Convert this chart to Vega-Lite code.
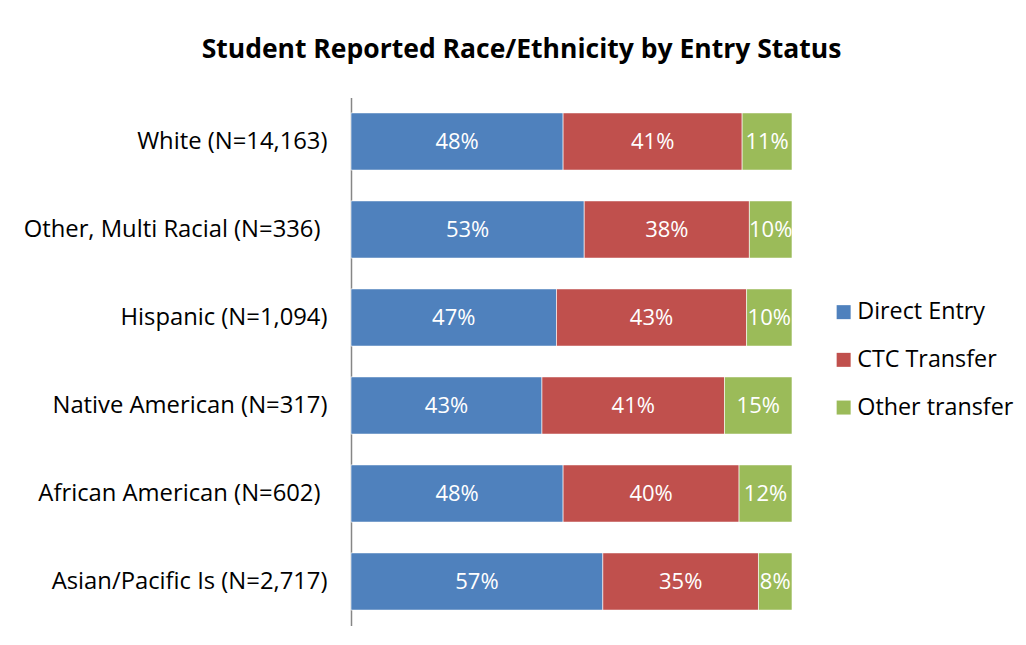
{
  "$schema": "https://vega.github.io/schema/vega-lite/v6.json",
  "autosize": "none",
  "width": 441,
  "height": 528,
  "padding": {"left": 351, "top": 97.5, "right": 234, "bottom": 20},
  "background": "white",
  "title": {
    "text": "Student Reported Race/Ethnicity by Entry Status",
    "font": "Open Sans",
    "fontSize": 26.5,
    "fontWeight": "bold",
    "color": "#000000",
    "anchor": "middle",
    "frame": "group",
    "dx": -50,
    "offset": 34
  },
  "data": {
    "values": [
      {"group": "White (N=14,163)", "status": "Direct Entry", "k": 1, "share": 0.481},
      {"group": "White (N=14,163)", "status": "CTC Transfer", "k": 2, "share": 0.406},
      {"group": "White (N=14,163)", "status": "Other transfer", "k": 3, "share": 0.113},
      {"group": "Other, Multi Racial (N=336)", "status": "Direct Entry", "k": 1, "share": 0.531},
      {"group": "Other, Multi Racial (N=336)", "status": "CTC Transfer", "k": 2, "share": 0.376},
      {"group": "Other, Multi Racial (N=336)", "status": "Other transfer", "k": 3, "share": 0.097},
      {"group": "Hispanic (N=1,094)", "status": "Direct Entry", "k": 1, "share": 0.466},
      {"group": "Hispanic (N=1,094)", "status": "CTC Transfer", "k": 2, "share": 0.431},
      {"group": "Hispanic (N=1,094)", "status": "Other transfer", "k": 3, "share": 0.103},
      {"group": "Native American (N=317)", "status": "Direct Entry", "k": 1, "share": 0.433},
      {"group": "Native American (N=317)", "status": "CTC Transfer", "k": 2, "share": 0.414},
      {"group": "Native American (N=317)", "status": "Other transfer", "k": 3, "share": 0.153},
      {"group": "African American (N=602)", "status": "Direct Entry", "k": 1, "share": 0.481},
      {"group": "African American (N=602)", "status": "CTC Transfer", "k": 2, "share": 0.399},
      {"group": "African American (N=602)", "status": "Other transfer", "k": 3, "share": 0.12},
      {"group": "Asian/Pacific Is (N=2,717)", "status": "Direct Entry", "k": 1, "share": 0.571},
      {"group": "Asian/Pacific Is (N=2,717)", "status": "CTC Transfer", "k": 2, "share": 0.353},
      {"group": "Asian/Pacific Is (N=2,717)", "status": "Other transfer", "k": 3, "share": 0.076}
    ]
  },
  "encoding": {
    "y": {
      "field": "group",
      "type": "nominal",
      "sort": null,
      "title": null,
      "scale": {"paddingInner": 0.35, "paddingOuter": 0.175},
      "axis": {
        "ticks": false,
        "labelPadding": {"condition": {"test": "datum.value == 'Other, Multi Racial (N=336)' || datum.value == 'African American (N=602)'", "value": 31}, "value": 24},
        "labelFont": "Open Sans",
        "labelFontSize": 23.8,
        "labelColor": "#000000",
        "labelLimit": 400,
        "domainColor": "#868686",
        "domainWidth": 1.5,
        "grid": false
      }
    }
  },
  "layer": [
    {
      "mark": {"type": "bar", "stroke": "#ffffff", "strokeWidth": 0.6},
      "encoding": {
        "x": {"field": "share", "type": "quantitative", "stack": "normalize", "axis": null, "scale": {"domain": [0, 1], "nice": false}},
        "color": {
          "field": "status",
          "type": "nominal",
          "scale": {"domain": ["Direct Entry", "CTC Transfer", "Other transfer"], "range": ["#4F81BD", "#C0504D", "#9BBB59"]},
          "legend": {
            "title": null,
            "orient": "none",
            "legendX": 481,
            "legendY": 203,
            "symbolType": "square",
            "symbolSize": 196,
            "symbolStrokeWidth": 0,
            "labelFont": "Open Sans",
            "labelFontSize": 23.3,
            "labelColor": "#000000",
            "labelOffset": 2,
            "rowPadding": 23.7
          }
        },
        "order": {"field": "k", "type": "quantitative"}
      }
    },
    {
      "mark": {"type": "text", "color": "#ffffff", "font": "Open Sans", "fontSize": 22, "align": "center", "baseline": "middle"},
      "encoding": {
        "x": {"field": "share", "type": "quantitative", "stack": "normalize", "bandPosition": 0.5},
        "text": {"field": "share", "type": "quantitative", "format": ".0%"},
        "detail": {"field": "status"},
        "order": {"field": "k", "type": "quantitative"}
      }
    }
  ],
  "config": {"view": {"stroke": null}}
}
